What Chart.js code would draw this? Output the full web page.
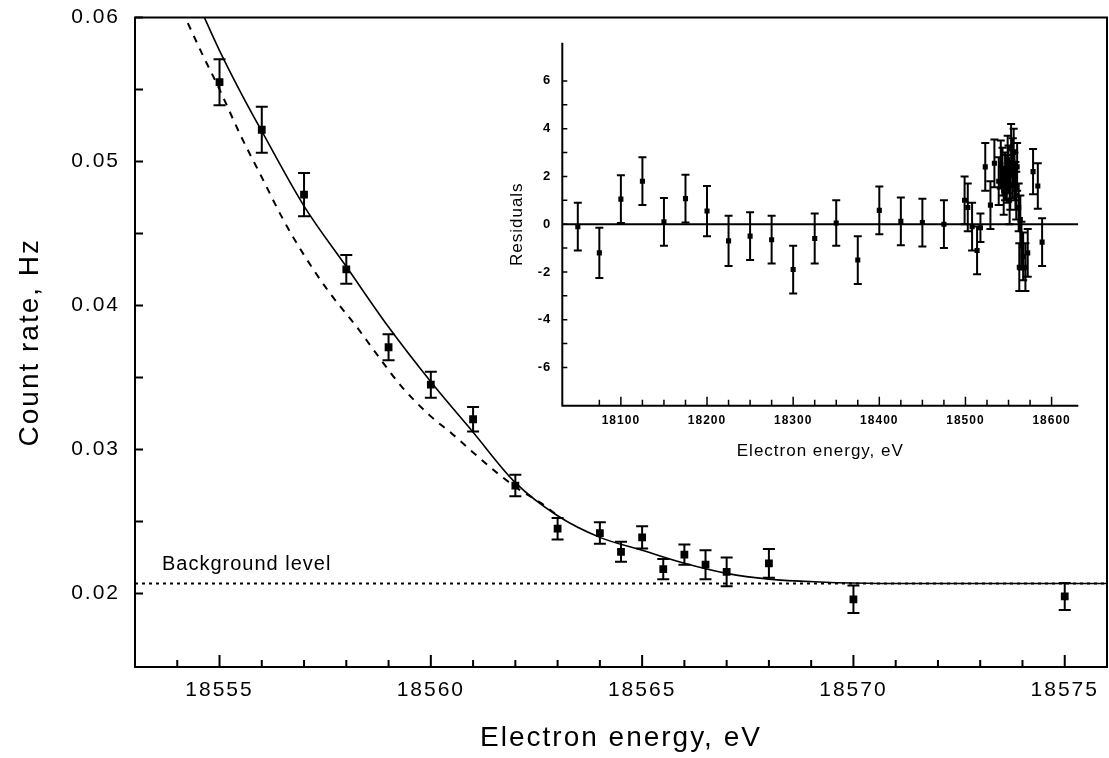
<html>

<head>
    <meta charset="UTF-8">
    <script src="https://cdn.jsdelivr.net/npm/chart.js"></script>
</head>
<style>
  html, body { margin: 0; padding: 0; background: #fff; }
  #wrap { position: relative; width: 1109px; height: 758px; }
  #main { position: absolute; left: 0; top: 0; }
  #inset { position: absolute; left: 470px; top: 30px; }
</style>

<body>
  <div id="wrap">
    <canvas id="main" width="1109" height="758"></canvas>
    <canvas id="inset" width="620" height="445"></canvas>
  </div>
</body>
<script>
  // main plot: count rate near the endpoint
  const energy    = [18555, 18556, 18557, 18558, 18559, 18560, 18561, 18562, 18563, 18564, 18564.5, 18565, 18565.5, 18566, 18566.5, 18567, 18568, 18570, 18575];
  const countRate = [0.0555, 0.0522, 0.0477, 0.0425, 0.0371, 0.0345, 0.0321, 0.0275, 0.0245, 0.0242, 0.0229, 0.0239, 0.0217, 0.0227, 0.0220, 0.0215, 0.0221, 0.0196, 0.0198];
  const countErr  = [0.0016, 0.0016, 0.0015, 0.0010, 0.0009, 0.0009, 0.00085, 0.00075, 0.00075, 0.00075, 0.0007, 0.00077, 0.0007, 0.0007, 0.001, 0.001, 0.001, 0.00095, 0.00094];

  // fitted spectrum (solid)
  const fitEnergy = [18554.64, 18555, 18555.5, 18556, 18557, 18558, 18559, 18560, 18561, 18562, 18563, 18564, 18565, 18566, 18567, 18568, 18569.2, 18570.6, 18576];
  const fitRate   = [0.0600, 0.0577, 0.0548, 0.0521, 0.0469, 0.0427, 0.0385, 0.0347, 0.0312, 0.0277, 0.0254, 0.0239, 0.0230, 0.0221, 0.0214, 0.0210, 0.0208, 0.0207, 0.0207];

  // second curve (dashed)
  const dashEnergy = [18554.25, 18554.6, 18555, 18555.5, 18556, 18556.5, 18557, 18557.6, 18558.25, 18558.7, 18559.3, 18560, 18560.5, 18561, 18561.6, 18562.1, 18562.6, 18563];
  const dashRate   = [0.0596, 0.0574, 0.0550, 0.0518, 0.0489, 0.0460, 0.0435, 0.0409, 0.0385, 0.0367, 0.0344, 0.0323, 0.0311, 0.0298, 0.0283, 0.0272, 0.0263, 0.0254];

  const backgroundLevel = 0.0207;
  const mainXRange = [18553, 18576];
  const mainYRange = [0.0149, 0.06];
  const mainXLabels = [18555, 18560, 18565, 18570, 18575];
  const mainYLabels = [0.02, 0.03, 0.04, 0.05, 0.06];

  // inset: residuals
  const resEnergy = [18050, 18075, 18100, 18125, 18150, 18175, 18200, 18225, 18250, 18275, 18300, 18325, 18350, 18375, 18400, 18425, 18450, 18475,
                     18499, 18502.7, 18507.7, 18513.5, 18517.4, 18523, 18529, 18533.6, 18538.6, 18541, 18543, 18544.4, 18546, 18548, 18549, 18550,
                     18551.3, 18552, 18553, 18554.5, 18555, 18556, 18557, 18558, 18559, 18560, 18561.8, 18562.5, 18563.7, 18565, 18567, 18569.6,
                     18572.3, 18578.5, 18584, 18589];
  const residual  = [-0.1, -1.2, 1.05, 1.8, 0.1, 1.07, 0.55, -0.7, -0.5, -0.65, -1.9, -0.6, 0.05, -1.5, 0.58, 0.12, 0.07, 0.0,
                     1.0, 0.7, -0.1, -1.1, -0.15, 2.4, 0.8, 2.55, 1.8, 2.5, 2.2, 1.4, 2.0, 1.9, 2.7, 2.3,
                     1.0, 1.6, 3.2, 2.1, 2.6, 3.0, 2.0, 1.6, 1.2, 2.4, 0.7, -1.8, 0.2, -0.9, -1.35, -1.8,
                     -1.2, 2.2, 1.6, -0.75];
  const resErr    = [1.0, 1.05, 1.0, 1.0, 1.0, 1.0, 1.05, 1.05, 1.0, 1.0, 1.0, 1.05, 0.95, 1.0, 1.0, 1.0, 1.0, 1.0,
                     1.0, 1.0, 1.0, 1.0, 0.6, 1.0, 1.0, 1.0, 1.0, 1.0, 1.0, 1.0, 1.0, 1.0, 1.0, 1.0,
                     1.0, 1.0, 1.0, 1.0, 1.0, 1.0, 1.0, 1.0, 1.0, 1.0, 1.0, 1.0, 1.0, 1.0, 1.0, 1.0,
                     1.0, 0.95, 0.95, 1.0];
  const insetXRange = [18032, 18631];
  const insetYRange = [-7.6, 7.6];
  const insetXLabels = [18100, 18200, 18300, 18400, 18500, 18600];
  const insetYLabels = [-6, -4, -2, 0, 2, 4, 6];

  const toXY = (xs, ys) => xs.map((x, i) => ({x: x, y: ys[i]}));
  const near = (v, s) => Math.abs(v / s - Math.round(v / s)) < 1e-6;
  const inList = (v, list) => list.some(l => Math.abs(l - v) < 1e-9);

  // fixed axis box sizes, no extra padding from the tick labels
  const fixSize = (w, h) => s => {
    if (w !== null) s.width = w;
    if (h !== null) s.height = h;
    s.paddingTop = s.paddingBottom = s.paddingLeft = s.paddingRight = 0;
  };

  // the scanned lettering is spaced out a bit
  const spacingPlugin = {
    id: 'spacing',
    beforeLayout(chart, args, o) { chart.ctx.letterSpacing = o.px + 'px'; },
    beforeDraw(chart, args, o) { chart.ctx.letterSpacing = o.px + 'px'; }
  };

  // axes lines + inward tick marks
  const framePlugin = {
    id: 'frame',
    afterDatasetsDraw(chart, args, o) {
      const {ctx, chartArea: a} = chart;
      const xs = chart.scales.x, ys = chart.scales.y;
      ctx.save();
      ctx.strokeStyle = '#000';
      ctx.lineWidth = o.axisWidth;
      ctx.beginPath();
      if (o.box) {
        ctx.rect(a.left, a.top, a.right - a.left, a.bottom - a.top);
      } else {
        ctx.moveTo(a.left, a.top);
        ctx.lineTo(a.left, a.bottom);
        ctx.lineTo(a.right, a.bottom);
      }
      ctx.stroke();
      ctx.lineWidth = o.tickWidth;
      ctx.beginPath();
      xs.ticks.forEach(t => {
        if (!near(t.value, o.xStep)) return;
        const px = xs.getPixelForValue(t.value);
        const len = near(t.value, o.xMajor) ? o.xMajorLen : o.xMinorLen;
        ctx.moveTo(px, a.bottom);
        ctx.lineTo(px, a.bottom - len);
      });
      ys.ticks.forEach(t => {
        if (!near(t.value, o.yStep)) return;
        const py = ys.getPixelForValue(t.value);
        ctx.moveTo(a.left, py);
        ctx.lineTo(a.left + o.yLen, py);
      });
      ctx.stroke();
      ctx.restore();
    }
  };

  // vertical error bars with caps
  const errorBarPlugin = {
    id: 'errorBars',
    afterDatasetsDraw(chart) {
      const {ctx} = chart;
      const ys = chart.scales.y;
      chart.data.datasets.forEach((ds, i) => {
        if (!ds.errorBars) return;
        const eb = ds.errorBars;
        const meta = chart.getDatasetMeta(i);
        ctx.save();
        ctx.strokeStyle = '#000';
        ctx.lineWidth = eb.width;
        ctx.beginPath();
        meta.data.forEach((pt, j) => {
          const v = ds.data[j].y, e = eb.err[j];
          const top = ys.getPixelForValue(v + e);
          const bot = ys.getPixelForValue(v - e);
          ctx.moveTo(pt.x, top); ctx.lineTo(pt.x, bot);
          ctx.moveTo(pt.x - eb.cap, top); ctx.lineTo(pt.x + eb.cap, top);
          ctx.moveTo(pt.x - eb.cap, bot); ctx.lineTo(pt.x + eb.cap, bot);
        });
        ctx.stroke();
        ctx.restore();
      });
    }
  };

  // "Background level" note above the dotted line
  const bgLabelPlugin = {
    id: 'bgLabel',
    afterDatasetsDraw(chart) {
      const {ctx} = chart;
      const x = chart.scales.x.getPixelForValue(mainXRange[0]) + 27;
      const y = chart.scales.y.getPixelForValue(backgroundLevel) - 13;
      ctx.save();
      ctx.fillStyle = '#000';
      ctx.font = '20px "Liberation Sans", Arial, sans-serif';
      ctx.letterSpacing = '1px';
      ctx.textBaseline = 'alphabetic';
      ctx.fillText('Background level', x, y);
      ctx.restore();
    }
  };

  const sans = '"Liberation Sans", Arial, sans-serif';

  new Chart(document.getElementById('main'), {
    type: 'scatter',
    data: {
      datasets: [
        {
          label: 'data',
          data: toXY(energy, countRate),
          pointStyle: 'rect',
          pointRadius: 5.5,
          backgroundColor: '#000',
          borderColor: '#000',
          borderWidth: 0,
          errorBars: {err: countErr, cap: 6, width: 2}
        },
        {
          label: 'fit',
          data: toXY(fitEnergy, fitRate),
          showLine: true,
          pointRadius: 0,
          borderColor: '#000',
          borderWidth: 1.6,
          cubicInterpolationMode: 'monotone'
        },
        {
          label: 'dashed',
          data: toXY(dashEnergy, dashRate),
          showLine: true,
          pointRadius: 0,
          borderColor: '#000',
          borderWidth: 2,
          borderDash: [7, 7],
          cubicInterpolationMode: 'monotone'
        },
        {
          label: 'background',
          data: toXY(mainXRange, [backgroundLevel, backgroundLevel]),
          showLine: true,
          pointRadius: 0,
          borderColor: '#000',
          borderWidth: 2,
          borderDash: [3, 4]
        }
      ]
    },
    options: {
      responsive: false,
      animation: false,
      events: [],
      layout: {autoPadding: false, padding: {top: 17.4, right: 2, left: 0, bottom: 0}},
      scales: {
        x: {
          type: 'linear',
          min: mainXRange[0], max: mainXRange[1],
          grid: {display: false, drawTicks: false},
          border: {display: false},
          ticks: {
            stepSize: 1, autoSkip: false, maxRotation: 0, padding: 11,
            color: '#000', font: {family: sans, size: 21},
            callback: v => inList(v, mainXLabels) ? String(v) : ''
          },
          title: {display: true, text: 'Electron energy, eV', color: '#000',
                  font: {family: sans, size: 28}, padding: {top: 0, bottom: 3}},
          afterFit: fixSize(null, 91)
        },
        y: {
          min: mainYRange[0], max: mainYRange[1],
          grid: {display: false, drawTicks: false},
          border: {display: false},
          ticks: {
            stepSize: 0.005, autoSkip: false, padding: 15,
            color: '#000', font: {family: sans, size: 21},
            callback: v => inList(v, mainYLabels) ? v.toFixed(2) : ''
          },
          title: {display: true, text: 'Count rate, Hz', color: '#000',
                  font: {family: sans, size: 28}, padding: {top: 13, bottom: 0}},
          afterFit: fixSize(135, null)
        }
      },
      plugins: {
        legend: {display: false},
        tooltip: {enabled: false},
        spacing: {px: 2},
        frame: {box: true, axisWidth: 2, tickWidth: 2, xStep: 1, xMajor: 5, xMajorLen: 12, xMinorLen: 7, yStep: 0.005, yLen: 8}
      }
    },
    plugins: [spacingPlugin, framePlugin, errorBarPlugin, bgLabelPlugin]
  });

  new Chart(document.getElementById('inset'), {
    type: 'scatter',
    data: {
      datasets: [
        {
          label: 'residuals',
          data: toXY(resEnergy, residual),
          pointStyle: 'rect',
          pointRadius: 3.6,
          backgroundColor: '#000',
          borderColor: '#000',
          borderWidth: 0,
          errorBars: {err: resErr, cap: 4, width: 2}
        },
        {
          label: 'zero',
          data: toXY(insetXRange, [0, 0]),
          showLine: true,
          pointRadius: 0,
          borderColor: '#000',
          borderWidth: 2
        }
      ]
    },
    options: {
      responsive: false,
      animation: false,
      events: [],
      layout: {autoPadding: false, padding: {top: 12.7, right: 11.7, left: 0, bottom: 0}},
      scales: {
        x: {
          type: 'linear',
          min: insetXRange[0], max: insetXRange[1],
          grid: {display: false, drawTicks: false},
          border: {display: false},
          ticks: {
            stepSize: 25, autoSkip: false, maxRotation: 0, padding: 8,
            color: '#000', font: {family: sans, size: 12, weight: 'bold'},
            callback: v => inList(v, insetXLabels) ? String(v) : ''
          },
          title: {display: true, text: 'Electron energy, eV', color: '#000',
                  font: {family: sans, size: 17}, padding: {top: 0, bottom: 13}},
          afterFit: fixSize(null, 69.3)
        },
        y: {
          min: insetYRange[0], max: insetYRange[1],
          grid: {display: false, drawTicks: false},
          border: {display: false},
          ticks: {
            stepSize: 1, autoSkip: false, padding: 11,
            color: '#000', font: {family: sans, size: 13, weight: 'bold'},
            callback: v => inList(v, insetYLabels) ? String(v) : ''
          },
          title: {display: true, text: 'Residuals', color: '#000',
                  font: {family: sans, size: 17}, padding: {top: 37, bottom: 0}},
          afterFit: fixSize(92.3, null)
        }
      },
      plugins: {
        legend: {display: false},
        tooltip: {enabled: false},
        spacing: {px: 1},
        frame: {box: false, axisWidth: 2, tickWidth: 1.5, xStep: 25, xMajor: 100, xMajorLen: 9, xMinorLen: 6, yStep: 1, yLen: 5}
      }
    },
    plugins: [spacingPlugin, framePlugin, errorBarPlugin]
  });
</script>
</html>
